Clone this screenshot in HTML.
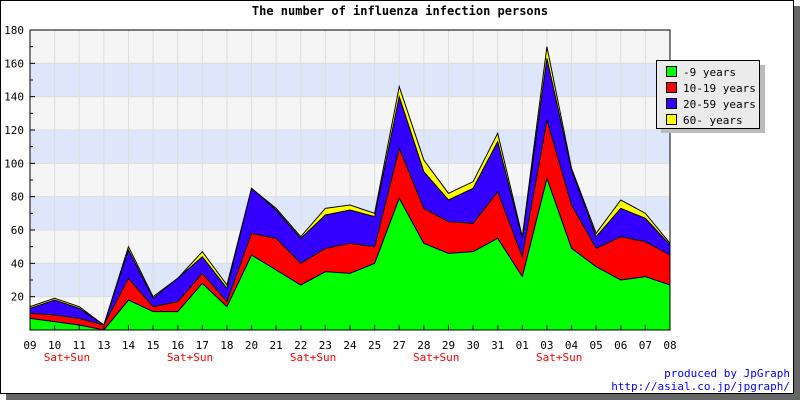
<!DOCTYPE html>
<html><head><meta charset="utf-8"><style>
body{margin:0;background:#fff;}
svg text{font-family:"DejaVu Sans Mono","Liberation Mono",monospace;}
</style></head><body>
<svg id="chart" width="800" height="400" xmlns="http://www.w3.org/2000/svg">
<rect x="6" y="6" width="794" height="394" fill="#666"/>
<rect x="0.5" y="0.5" width="793" height="393" fill="#fff" stroke="#000"/>
<text x="400" y="15" text-anchor="middle" font-size="12" font-weight="bold">The number of influenza infection persons</text>
<g id="bands"></g><g id="grid"></g><g id="areas"></g><g id="axes"></g>
<g>
<rect x="661" y="65" width="104" height="68" fill="#bbb"/>
<rect x="656.5" y="60.5" width="103" height="68" fill="#ebebeb" stroke="#000"/>
<g id="legend-items"></g>
</g>
<text x="790" y="377" text-anchor="end" font-size="11" fill="#00f">produced by JpGraph</text>
<text x="790" y="390" text-anchor="end" font-size="11" fill="#00f">http://asial.co.jp/jpgraph/</text>
</svg>
<script>
const categories=["09","10","11","13","14","15","16","17","18","20","21","22","23","24","25","27","28","29","30","31","01","03","04","05","06","07","08"];
const seriesNames=["-9 years","10-19 years","20-59 years","60- years"];
const seriesColors=["#00ff00","#ff0000","#3300ff","#ffff00"];
const kids=[7,5,3,0,18,11,11,28,14,45,36,27,35,34,40,79,52,46,47,55,32,91,49,38,30,32,27];
const teens=[3,4,4,3,13,3,6,6,3,13,19,13,14,18,10,30,21,19,17,28,12,35,26,11,26,21,18];
const adults=[3,9,6,0,17,5,14,10,8,27,17,15,20,20,18,31,22,13,21,30,11,37,21,7,17,14,6];
const elders=[1,1,1,0,2,1,0,3,2,0,1,1,4,3,2,6,7,4,4,5,1,7,1,2,5,3,1];
const yTicks=[20,40,60,80,100,120,140,160,180];
const weekendLabels=["Sat+Sun","Sat+Sun","Sat+Sun","Sat+Sun","Sat+Sun"];
const weekendPos=[1.5,6.5,11.5,16.5,21.5];
const X0=30,X1=670,Y0=330,Y1=30,YMAX=180;
const xs=i=>X0+(X1-X0)*i/(categories.length-1);
const ys=v=>Y0-(Y0-Y1)*v/YMAX;
const NS="http://www.w3.org/2000/svg";
function mk(p,t,a){const e=document.createElementNS(NS,t);for(const k in a)e.setAttribute(k,a[k]);p.appendChild(e);return e;}
const bands=document.getElementById('bands'),grid=document.getElementById('grid'),areas=document.getElementById('areas'),axes=document.getElementById('axes');
for(let v=0;v<YMAX;v+=20){const r=mk(bands,'rect',{x:X0,y:ys(v+20),width:X1-X0,height:ys(v)-ys(v+20),fill:(v/20)%2?'#dde6fb':'#f5f5f5'});

}
categories.forEach((c,i)=>{const l=mk(grid,'line',{x1:xs(i),x2:xs(i),y1:Y1,y2:Y0,stroke:'#ddd'});

});
yTicks.forEach(v=>{const l=mk(grid,'line',{x1:X0,x2:X1,y1:ys(v),y2:ys(v),stroke:'#ddd'});

});
const series=[kids,teens,adults,elders];
const cum=[];let prev=categories.map(()=>0);
series.forEach(s=>{const c=s.map((v,i)=>v+prev[i]);cum.push(c);prev=c;});
for(let k=3;k>=0;k--){let d='M'+xs(0)+','+ys(0);cum[k].forEach((v,i)=>d+=' L'+xs(i)+','+ys(v));d+=' L'+xs(categories.length-1)+','+ys(0)+' Z';
const p=mk(areas,'path',{d:d,fill:seriesColors[k],stroke:'#000','stroke-width':1});

}
mk(axes,'rect',{x:X0,y:Y1,width:X1-X0,height:Y0-Y1,fill:'none',stroke:'#000'});
for(let v=10;v<=YMAX;v+=10){const t=mk(axes,'line',{x1:X0,x2:X0+(v%20?3:5),y1:ys(v),y2:ys(v),stroke:'#000'});

}
yTicks.forEach(v=>{const t=mk(axes,'text',{x:X0-6,y:ys(v)+4,'text-anchor':'end','font-size':11});t.textContent=v;

});
categories.forEach((c,i)=>{const tk=mk(axes,'line',{x1:xs(i),x2:xs(i),y1:Y0,y2:Y0-5,stroke:'#000'});


const t=mk(axes,'text',{x:xs(i),y:349,'text-anchor':'middle','font-size':11});t.textContent=c;

});
weekendLabels.forEach((w,i)=>{const t=mk(axes,'text',{x:xs(weekendPos[i]),y:361,'text-anchor':'middle','font-size':11,fill:'#f00'});t.textContent=w;

});
const li=document.getElementById('legend-items');
seriesNames.forEach((n,i)=>{const y=66+i*16;const r=mk(li,'rect',{x:666.5,y:y+0.5,width:10,height:10,fill:seriesColors[i],stroke:'#000'});


const t=mk(li,'text',{x:683,y:y+10,'font-size':11});t.textContent=n;

});
</script>
</body></html>
